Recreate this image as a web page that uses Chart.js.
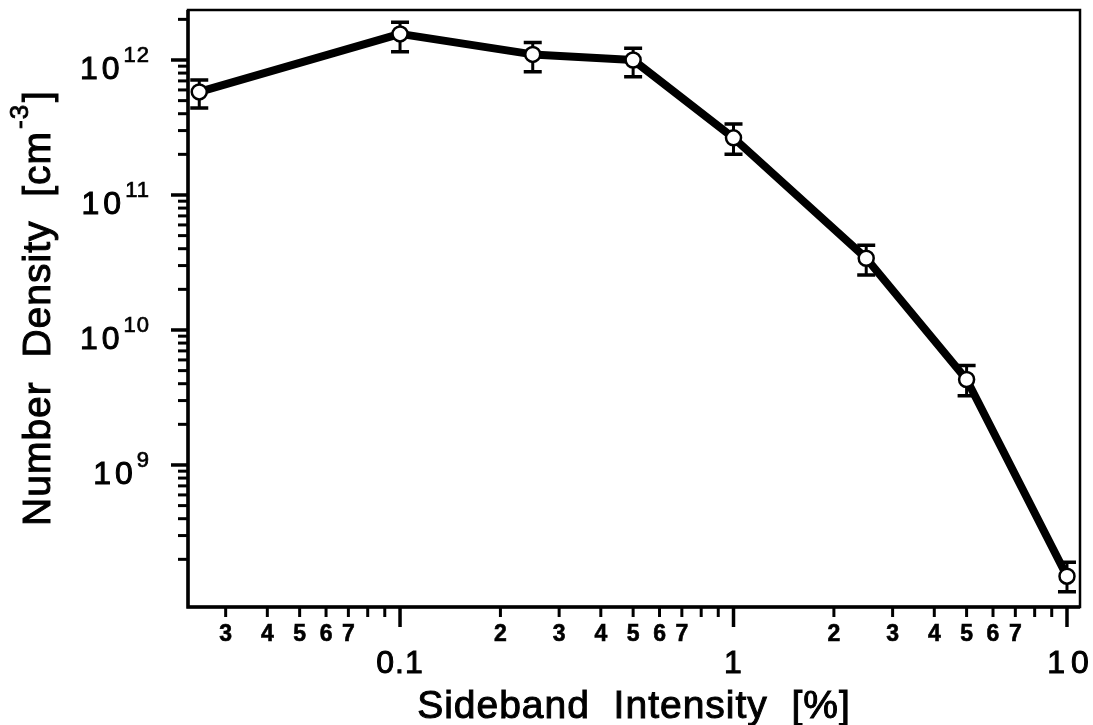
<!DOCTYPE html>
<html>
<head>
<meta charset="utf-8">
<script src="https://cdn.jsdelivr.net/npm/chart.js@4/dist/chart.umd.min.js"></script>
<style>
  html, body { margin: 0; padding: 0; background: #fff; }
  #wrap { width: 1093px; height: 725px; }
</style>
</head>
<body>
<div id="wrap"><canvas id="densityChart" width="1093" height="725"></canvas></div>
<script>
// measured number density vs. sideband intensity
const intensity = [0.025, 0.1, 0.25, 0.5, 1, 2.5, 5, 10];
const density = [5.8e11, 1.56e12, 1.10e12, 1.0e12, 2.65e11, 3.4e10, 4.3e9, 1.5e8];
const densityLow = [4.4e11, 1.15e12, 8.2e11, 7.5e11, 2.0e11, 2.55e10, 3.25e9, 1.15e8];
const densityHigh = [7.1e11, 1.9e12, 1.35e12, 1.22e12, 3.35e11, 4.25e10, 5.45e9, 1.9e8];

// axis ticks
const xMajorTicks = [0.1, 1, 10];
const xMajorLabels = ["0.1", "1", "10"];
const xDecades = [0.01, 0.1, 1];
const xMinorLabels = ["2", "3", "4", "5", "6", "7"];   // 8 and 9 get no digit
const yExponents = [9, 10, 11, 12];
const yDecades = [1e8, 1e9, 1e10, 1e11, 1e12];

const FONT = "'Liberation Sans', Arial, sans-serif";

// slightly heavier text, like the rest of the ink
function inkText(ctx, s, x, y, w) {
    ctx.fillText(s, x, y);
    ctx.lineWidth = w;
    ctx.strokeText(s, x, y);
}

const axesPlugin = {
    id: "axesPlugin",
    beforeDatasetsDraw(chart) {
        const ctx = chart.ctx;
        const x = chart.scales.x, y = chart.scales.y;
        ctx.save();
        ctx.strokeStyle = "#000";
        // error bars go under the line and markers
        intensity.forEach((v, i) => {
            const px = x.getPixelForValue(v);
            const top = y.getPixelForValue(densityHigh[i]);
            const bot = y.getPixelForValue(densityLow[i]);
            ctx.lineWidth = 3;
            ctx.beginPath();
            ctx.moveTo(px, top);
            ctx.lineTo(px, bot);
            ctx.stroke();
            ctx.lineWidth = 3.5;
            ctx.beginPath();
            ctx.moveTo(px - 9, top);
            ctx.lineTo(px + 9, top);
            ctx.moveTo(px - 9, bot);
            ctx.lineTo(px + 9, bot);
            ctx.stroke();
        });
        ctx.restore();
    },
    afterDraw(chart) {
        const ctx = chart.ctx;
        const a = chart.chartArea;
        const x = chart.scales.x, y = chart.scales.y;
        ctx.save();
        ctx.strokeStyle = "#000";
        ctx.fillStyle = "#000";

        // frame
        ctx.lineWidth = 2.5;
        ctx.strokeRect(a.left, a.top, a.right - a.left, a.bottom - a.top);
        ctx.lineWidth = 3.5;
        ctx.beginPath();
        ctx.moveTo(a.left, a.top);
        ctx.lineTo(a.left, a.bottom);
        ctx.lineTo(a.right, a.bottom);
        ctx.stroke();

        // x ticks
        ctx.textAlign = "center";
        ctx.textBaseline = "alphabetic";
        xDecades.forEach(d => {
            for (let m = 2; m <= 9; m++) {
                const v = d * m;
                if (v < x.min || v > x.max) continue;
                const px = x.getPixelForValue(v);
                ctx.lineWidth = 3;
                ctx.beginPath();
                ctx.moveTo(px, a.bottom);
                ctx.lineTo(px, a.bottom + 10);
                ctx.stroke();
                if (m <= 7) {
                    ctx.font = "bold 23px " + FONT;
                    inkText(ctx, xMinorLabels[m - 2], px, a.bottom + 34, 0.6);
                }
            }
        });
        xMajorTicks.forEach((v, i) => {
            const px = x.getPixelForValue(v);
            ctx.lineWidth = 3.5;
            ctx.beginPath();
            ctx.moveTo(px, a.bottom);
            ctx.lineTo(px, a.bottom + 20);
            ctx.stroke();
            ctx.font = "32px " + FONT;
            ctx.letterSpacing = i === 2 ? "6px" : "1px";
            inkText(ctx, xMajorLabels[i], px + (i === 2 ? 4 : 0), a.bottom + 66, 1);
            ctx.letterSpacing = "0px";
        });

        // y ticks
        yDecades.forEach(d => {
            for (let m = 2; m <= 9; m++) {
                const v = d * m;
                if (v < y.min || v > y.max) continue;
                const py = y.getPixelForValue(v);
                ctx.lineWidth = 3;
                ctx.beginPath();
                ctx.moveTo(a.left, py);
                ctx.lineTo(a.left - 10, py);
                ctx.stroke();
            }
        });
        ctx.textAlign = "left";
        yExponents.forEach(e => {
            const py = y.getPixelForValue(Math.pow(10, e));
            ctx.lineWidth = 3.5;
            ctx.beginPath();
            ctx.moveTo(a.left, py);
            ctx.lineTo(a.left - 17, py);
            ctx.stroke();
            ctx.font = "32px " + FONT;
            ctx.letterSpacing = "4px";
            const wBase = ctx.measureText("10").width;
            ctx.font = "22px " + FONT;
            ctx.letterSpacing = "1px";
            const wExp = ctx.measureText(String(e)).width;
            const x0 = 150 - wBase - wExp;
            ctx.font = "32px " + FONT;
            ctx.letterSpacing = "4px";
            inkText(ctx, "10", x0, py + 19, 1);
            ctx.font = "22px " + FONT;
            ctx.letterSpacing = "1px";
            inkText(ctx, String(e), x0 + wBase, py + 2, 0.7);
        });

        // axis titles
        ctx.font = "39px " + FONT;
        ctx.letterSpacing = "1px";
        ctx.textAlign = "center";
        inkText(ctx, "Sideband  Intensity  [%]", 634, 718, 1);

        ctx.translate(50, 308);
        ctx.rotate(-Math.PI / 2);
        ctx.textAlign = "left";
        const main = "Number  Density  [cm";
        const sup = "-3";
        const close = "]";
        ctx.font = "39px " + FONT;
        const w1 = ctx.measureText(main).width;
        const w3 = ctx.measureText(close).width;
        ctx.font = "26px " + FONT;
        const w2 = ctx.measureText(sup).width;
        let cx = -(w1 + w2 + w3 + 4) / 2;
        ctx.font = "39px " + FONT;
        inkText(ctx, main, cx, 0, 1);
        cx += w1 + 2;
        ctx.font = "26px " + FONT;
        inkText(ctx, sup, cx, -22, 0.8);
        cx += w2 + 2;
        ctx.font = "39px " + FONT;
        inkText(ctx, close, cx, 0, 1);
        ctx.restore();
    }
};

const chart = new Chart(document.getElementById("densityChart").getContext("2d"), {
    type: "line",
    data: {
        datasets: [{
            data: intensity.map((v, i) => ({ x: v, y: density[i] })),
            borderColor: "#000",
            borderWidth: 8,
            borderJoinStyle: "round",
            borderCapStyle: "round",
            tension: 0,
            pointRadius: 7.5,
            pointBorderWidth: 2.5,
            pointBackgroundColor: "#fff",
            pointBorderColor: "#000",
            clip: false
        }]
    },
    options: {
        responsive: false,
        animation: false,
        devicePixelRatio: 1,
        layout: { padding: { left: 188, right: 13, top: 10, bottom: 118 } },
        plugins: { legend: { display: false }, tooltip: { enabled: false } },
        scales: {
            x: { type: "logarithmic", min: 0.02313, max: 10.94, display: false },
            y: { type: "logarithmic", min: 8.87e7, max: 2.346e12, display: false }
        }
    },
    plugins: [axesPlugin]
});
</script>
</body>
</html>
